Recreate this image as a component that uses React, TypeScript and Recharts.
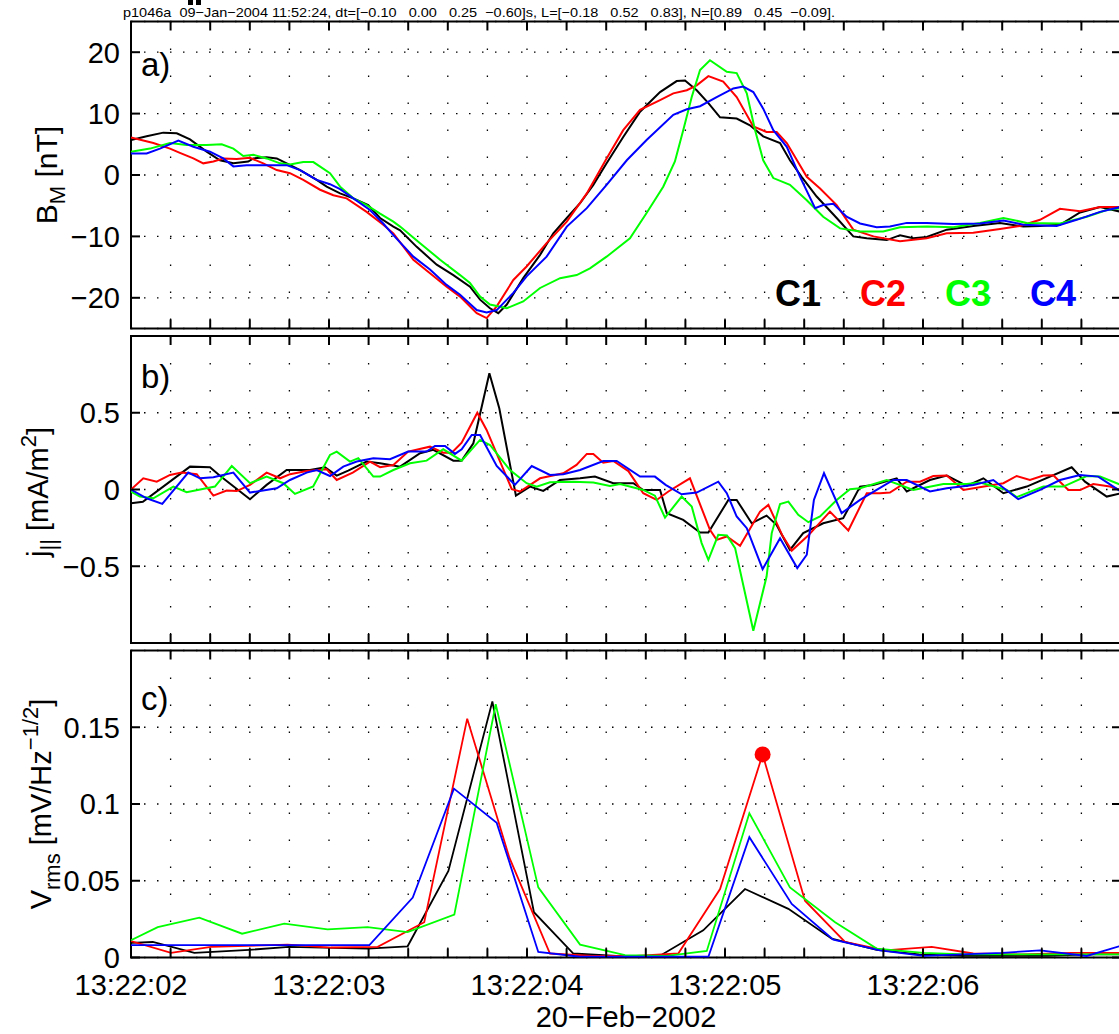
import React from "react";
import {
  LineChart,
  Line,
  XAxis,
  YAxis,
  CartesianGrid,
  ReferenceArea,
  ReferenceDot,
} from "recharts";

type P = [number, number];

// x values are seconds after 13:22:02 (20-Feb-2002)
const timeTicks = [
  0, 0.2, 0.4, 0.6, 0.8, 1, 1.2, 1.4, 1.6, 1.8, 2, 2.2, 2.4, 2.6, 2.8, 3, 3.2,
  3.4, 3.6, 3.8, 4, 4.2, 4.4, 4.6, 4.8, 5,
];
const secondTicks = [0, 1, 2, 3, 4];
const secondLabels = ["13:22:02", "13:22:03", "13:22:04", "13:22:05", "13:22:06"];

// a) B_M [nT]
const bmTicks = [-20, -10, 0, 10, 20];
const bmC1: P[] = [
  [0, 5.7], [0.079, 6.3], [0.163, 6.9], [0.231, 6.8], [0.298, 5.8], [0.382, 3.8],
  [0.449, 2.4], [0.517, 1.9], [0.592, 2.2], [0.618, 2.7], [0.685, 2.9], [0.736, 2.7],
  [0.786, 1.9], [0.854, 0.8], [0.938, -0.8], [0.988, -1.9], [1.056, -3.0], [1.123, -3.8],
  [1.198, -4.9], [1.258, -7.0], [1.325, -8.4], [1.359, -9.0], [1.443, -11.7], [1.544, -14.6],
  [1.628, -16.3], [1.712, -18.2], [1.763, -20.3], [1.813, -21.7], [1.855, -22.5], [1.898, -21.1],
  [1.981, -16.8], [2.066, -13.0], [2.133, -9.5], [2.201, -7.0], [2.268, -4.6], [2.335, -1.6],
  [2.402, 1.9], [2.486, 6.2], [2.571, 10.3], [2.672, 13.5], [2.756, 15.3], [2.798, 15.4],
  [2.857, 13.8], [2.916, 11.7], [2.975, 9.4], [3.059, 9.2], [3.126, 8.1], [3.193, 6.3],
  [3.278, 5.2], [3.328, 2.4], [3.387, -0.3], [3.463, -3.5], [3.564, -7.0], [3.648, -10.0],
  [3.716, -10.3], [3.817, -10.6], [3.884, -9.8], [3.951, -10.3], [4.019, -10.1], [4.12, -8.9],
  [4.254, -8.3], [4.389, -7.8], [4.507, -8.4], [4.591, -8.3], [4.692, -8.1], [4.793, -6.1],
  [4.894, -5.2], [5.0, -6.0],
];
const bmC2: P[] = [
  [0, 6.1], [0.113, 5.2], [0.197, 4.3], [0.247, 3.6], [0.315, 2.7], [0.365, 1.9],
  [0.416, 2.2], [0.466, 2.7], [0.534, 2.6], [0.601, 2.8], [0.668, 1.9], [0.736, 0.8],
  [0.803, 0.3], [0.87, -0.8], [0.955, -2.4], [1.022, -3.3], [1.089, -3.8], [1.19, -6.0],
  [1.274, -8.1], [1.325, -9.5], [1.426, -13.8], [1.51, -16.0], [1.594, -18.2], [1.662, -19.8],
  [1.746, -22.5], [1.796, -23.3], [1.847, -21.4], [1.931, -17.1], [1.998, -14.9], [2.099, -11.1],
  [2.201, -7.6], [2.302, -3.0], [2.402, 2.7], [2.486, 7.3], [2.571, 10.6], [2.672, 12.2],
  [2.739, 13.3], [2.807, 13.8], [2.857, 14.6], [2.916, 16.1], [2.991, 15.2], [3.059, 12.7],
  [3.143, 7.9], [3.21, 7.0], [3.261, 7.0], [3.312, 5.2], [3.413, -0.3], [3.48, -2.2],
  [3.564, -4.9], [3.648, -8.9], [3.749, -10.0], [3.884, -10.8], [4.019, -10.3], [4.12, -9.5],
  [4.254, -9.4], [4.389, -8.8], [4.49, -8.3], [4.591, -7.3], [4.692, -5.5], [4.793, -5.9],
  [4.894, -5.2], [5.0, -5.2],
];
const bmC3: P[] = [
  [0, 3.8], [0.096, 4.3], [0.197, 5.2], [0.281, 4.9], [0.382, 4.9], [0.458, 5.0],
  [0.517, 4.3], [0.567, 3.1], [0.618, 3.3], [0.685, 2.7], [0.753, 1.9], [0.803, 1.7],
  [0.87, 2.1], [0.921, 2.1], [1.005, 0.3], [1.056, -1.9], [1.123, -3.8], [1.19, -4.9],
  [1.258, -6.3], [1.325, -7.6], [1.359, -8.4], [1.46, -11.1], [1.561, -13.8], [1.662, -16.3],
  [1.712, -17.6], [1.763, -19.8], [1.813, -21.1], [1.898, -21.7], [1.981, -20.6], [2.066, -18.4],
  [2.167, -16.8], [2.251, -16.3], [2.318, -15.2], [2.402, -13.3], [2.52, -10.3], [2.604, -6.2],
  [2.688, -1.9], [2.747, 2.2], [2.789, 7.3], [2.832, 12.7], [2.874, 17.1], [2.924, 18.7],
  [3.009, 16.8], [3.059, 16.6], [3.11, 13.3], [3.152, 7.3], [3.193, 2.4], [3.244, -0.5],
  [3.328, -1.6], [3.413, -4.1], [3.496, -6.8], [3.581, -8.7], [3.682, -9.2], [3.799, -9.2],
  [3.884, -8.5], [4.019, -8.4], [4.153, -8.5], [4.288, -7.8], [4.406, -7.0], [4.524, -7.8],
  [4.692, -7.9], [4.827, -6.8], [4.928, -5.7], [5.0, -5.4],
];
const bmC4: P[] = [
  [0, 3.5], [0.079, 3.5], [0.146, 4.3], [0.239, 5.6], [0.315, 4.6], [0.399, 3.8],
  [0.466, 2.7], [0.517, 1.4], [0.584, 1.6], [0.668, 1.6], [0.786, 1.6], [0.854, 0.8],
  [0.938, -0.8], [1.005, -1.5], [1.056, -2.3], [1.123, -3.8], [1.207, -5.7], [1.274, -7.9],
  [1.325, -9.8], [1.426, -13.3], [1.51, -15.4], [1.594, -17.9], [1.662, -19.5], [1.746, -22.0],
  [1.796, -22.4], [1.847, -22.0], [1.931, -19.2], [1.998, -16.5], [2.099, -13.3], [2.201, -8.4],
  [2.302, -5.4], [2.402, -1.6], [2.504, 2.4], [2.604, 5.7], [2.739, 9.8], [2.807, 10.7],
  [2.874, 11.2], [2.958, 12.7], [3.042, 14.1], [3.092, 14.4], [3.143, 13.5], [3.193, 10.8],
  [3.244, 7.3], [3.312, 4.6], [3.379, -0.3], [3.455, -5.4], [3.496, -4.9], [3.547, -4.7],
  [3.614, -6.8], [3.682, -7.9], [3.766, -8.5], [3.833, -8.4], [3.918, -7.8], [4.019, -7.8],
  [4.153, -8.0], [4.288, -7.9], [4.406, -7.4], [4.507, -8.1], [4.675, -8.3], [4.776, -7.3],
  [4.894, -6.0], [5.0, -5.2],
];

// b) j_par [mA/m^2]
const jparTicks = [-0.5, 0, 0.5];
const jparC1: P[] = [
  [0, -0.09], [0.06, -0.08], [0.298, 0.149], [0.399, 0.145], [0.449, 0.09], [0.601, -0.063],
  [0.685, 0.03], [0.786, 0.127], [0.904, 0.127], [0.98, 0.145], [1.039, 0.09], [1.097, 0.123],
  [1.19, 0.182], [1.258, 0.171], [1.359, 0.149], [1.46, 0.236], [1.527, 0.258], [1.628, 0.188],
  [1.67, 0.188], [1.729, 0.301], [1.81, 0.757], [1.86, 0.529], [1.944, -0.04], [2.015, 0.019],
  [2.082, -0.009], [2.167, 0.062], [2.268, 0.073], [2.343, 0.084], [2.436, 0.041], [2.537, 0.041],
  [2.587, -0.003], [2.672, -0.003], [2.706, -0.154], [2.789, -0.198], [2.874, -0.28], [2.916, -0.28],
  [3.017, -0.068], [3.059, -0.068], [3.135, -0.22], [3.21, -0.17], [3.26, -0.23], [3.328, -0.393],
  [3.395, -0.284], [3.496, -0.22], [3.597, -0.187], [3.682, 0.019], [3.749, 0.03], [3.867, 0.073],
  [3.918, -0.013], [4.035, 0.062], [4.12, 0.091], [4.221, 0.023], [4.305, 0.073], [4.406, -0.024],
  [4.524, 0.019], [4.751, 0.145], [4.818, 0.051], [4.928, -0.046], [5.0, -0.024],
];
const jparC2: P[] = [
  [0, 0], [0.062, 0.073], [0.13, 0.051], [0.197, 0.095], [0.256, 0.11], [0.332, 0.1],
  [0.416, -0.04], [0.483, -0.007], [0.534, -0.01], [0.601, 0.03], [0.685, 0.11], [0.753, 0.073],
  [0.803, 0.1], [0.887, 0.121], [0.988, 0.132], [1.039, 0.062], [1.12, 0.11], [1.207, 0.182],
  [1.258, 0.145], [1.325, 0.16], [1.4, 0.247], [1.51, 0.279], [1.577, 0.24], [1.62, 0.24],
  [1.67, 0.305], [1.749, 0.5], [1.796, 0.388], [1.923, 0.002], [1.965, -0.013], [2.066, 0.073],
  [2.183, 0.106], [2.25, 0.16], [2.302, 0.232], [2.335, 0.232], [2.385, 0.175], [2.436, 0.186],
  [2.512, 0.12], [2.587, -0.024], [2.655, -0.068], [2.714, -0.013], [2.823, 0.073], [2.924, -0.263],
  [2.958, -0.328], [3.009, -0.306], [3.076, -0.367], [3.177, -0.144], [3.219, -0.1], [3.29, -0.3],
  [3.337, -0.398], [3.42, -0.3], [3.53, -0.144], [3.623, -0.267], [3.716, -0.024], [3.783, -0.024],
  [3.833, -0.02], [3.918, 0.051], [3.985, 0.051], [4.052, 0.088], [4.12, 0.091], [4.204, -0.003],
  [4.406, 0.041], [4.473, 0.088], [4.54, 0.062], [4.608, 0.091], [4.658, 0.093], [4.734, -0.003],
  [4.793, -0.004], [4.86, 0.036], [4.944, 0.019], [5.0, -0.004],
];
const jparC3: P[] = [
  [0, -0.013], [0.045, -0.046], [0.113, -0.057], [0.214, 0.019], [0.281, -0.018], [0.424, 0.019],
  [0.509, 0.153], [0.601, 0.041], [0.685, 0.084], [0.769, 0.041], [0.828, -0.029], [0.92, 0.02],
  [1.005, 0.225], [1.039, 0.247], [1.106, 0.182], [1.148, 0.204], [1.224, 0.084], [1.258, 0.084],
  [1.325, 0.127], [1.409, 0.171], [1.493, 0.188], [1.577, 0.262], [1.67, 0.188], [1.763, 0.323],
  [1.813, 0.29], [1.914, 0.127], [1.998, 0.041], [2.049, 0.019], [2.116, 0.047], [2.234, 0.051],
  [2.335, 0.045], [2.419, 0.023], [2.47, 0.036], [2.587, -0.003], [2.646, -0.04], [2.697, -0.183],
  [2.781, -0.046], [2.832, -0.111], [2.882, -0.349], [2.916, -0.458], [2.966, -0.295], [3.01, -0.3],
  [3.051, -0.382], [3.143, -0.92], [3.21, -0.567], [3.236, -0.284], [3.278, -0.095], [3.32, -0.079],
  [3.37, -0.165], [3.421, -0.213], [3.48, -0.176], [3.564, -0.068], [3.631, 0.002], [3.682, 0.008],
  [3.817, 0.062], [3.951, -0.003], [4.103, 0.036], [4.221, 0.036], [4.288, 0.045], [4.423, -0.003],
  [4.473, -0.05], [4.608, 0.019], [4.709, 0.019], [4.827, 0.088], [4.894, 0.084], [5.0, 0.03],
];
const jparC4: P[] = [
  [0, 0], [0.079, -0.057], [0.158, -0.094], [0.289, 0.11], [0.348, 0.073], [0.416, 0.08],
  [0.517, 0.11], [0.601, -0.02], [0.736, 0.008], [0.803, 0.062], [0.887, 0.11], [0.938, 0.127],
  [1.005, 0.088], [1.072, 0.149], [1.14, 0.182], [1.224, 0.204], [1.308, 0.197], [1.4, 0.247],
  [1.493, 0.247], [1.535, 0.284], [1.586, 0.284], [1.636, 0.232], [1.67, 0.262], [1.721, 0.355],
  [1.763, 0.355], [1.847, 0.153], [1.939, 0.03], [2.024, 0.153], [2.116, 0.095], [2.183, 0.1],
  [2.268, 0.127], [2.385, 0.186], [2.453, 0.186], [2.571, 0.084], [2.646, 0.084], [2.7, 0.03],
  [2.781, -0.031], [2.857, -0.02], [2.966, 0.051], [3.009, -0.024], [3.059, -0.176], [3.11, -0.252],
  [3.19, -0.519], [3.278, -0.317], [3.365, -0.512], [3.413, -0.425], [3.449, -0.068], [3.5, 0.106],
  [3.589, -0.154], [3.682, -0.068], [3.766, -0.003], [3.85, 0.062], [3.918, 0.062], [4.035, -0.013],
  [4.12, 0.008], [4.254, 0.03], [4.355, 0.062], [4.481, -0.063], [4.591, -0.003], [4.692, 0.062],
  [4.793, 0.095], [4.885, 0.084], [5.0, -0.013],
];

// c) V_rms [mV/Hz^-1/2]
const vrmsTicks = [0, 0.05, 0.1, 0.15];
const vrmsC1: P[] = [
  [0, 0.0095], [0.11, 0.0101], [0.32, 0.003], [0.597, 0.005], [0.798, 0.0069], [1.195, 0.0058],
  [1.397, 0.0073], [1.603, 0.0564], [1.825, 0.1668], [2.035, 0.0295], [2.234, 0.0026], [2.45, 0.001],
  [2.67, 0.001], [2.89, 0.0177], [3.101, 0.0446], [3.32, 0.0317], [3.539, 0.0123], [3.766, 0.005],
  [3.98, 0.002], [4.2, 0.001], [4.41, 0.001], [4.63, 0.001], [4.84, 0.002], [5.0, 0.002],
];
const vrmsC2: P[] = [
  [0, 0.0107], [0.202, 0.003], [0.404, 0.0069], [0.791, 0.0084], [1.01, 0.0065], [1.246, 0.0069],
  [1.481, 0.023], [1.698, 0.1556], [1.911, 0.065], [2.116, 0.0026], [2.33, 0.001], [2.55, 0.001],
  [2.764, 0.0026], [2.975, 0.0446], [3.19, 0.1323], [3.404, 0.037], [3.606, 0.0101], [3.808, 0.0047],
  [4.044, 0.0069], [4.254, 0.0026], [4.5, 0.002], [4.75, 0.003], [5.0, 0.003],
];
const vrmsC3: P[] = [
  [0, 0.0112], [0.135, 0.0198], [0.345, 0.0259], [0.561, 0.0155], [0.774, 0.022], [0.993, 0.0183],
  [1.195, 0.0198], [1.397, 0.0166], [1.633, 0.028], [1.842, 0.165], [2.057, 0.0457], [2.268, 0.0084],
  [2.495, 0.0015], [2.707, 0.001], [2.908, 0.0043], [3.123, 0.094], [3.328, 0.0457], [3.556, 0.023],
  [3.766, 0.0058], [4.002, 0.003], [4.221, 0.002], [4.45, 0.002], [4.7, 0.002], [5.0, 0.002],
];
const vrmsC4: P[] = [
  [0, 0.008], [1.204, 0.008], [1.423, 0.039], [1.631, 0.11], [1.847, 0.0877], [2.057, 0.0036],
  [2.268, 0.0005], [2.5, 0.0005], [2.916, 0.0005], [3.123, 0.0784], [3.337, 0.0349], [3.547, 0.0116],
  [3.783, 0.0047], [4.002, 0.001], [4.2, 0.002], [4.4, 0.003], [4.591, 0.0047], [4.827, 0.001],
  [4.99, 0.0073], [5.0, 0.0076],
];

// the marked C2 maximum of the second burst
const vrmsMarker = vrmsC2
  .filter(([t]) => t > 2.5)
  .reduce((a, b) => (b[1] > a[1] ? b : a));

const FONT = '"Liberation Sans", Arial, Helvetica, sans-serif';
const COLORS = ["#000000", "#ff0000", "#00ff00", "#0000ff"];
const PLOT_L = 131;
const PLOT_W = 990;
const PLOT_H = 307;
const TICK = 9;

const toPts = (a: P[]) => a.map(([t, v]) => ({ t, v }));

const fmtSigned = (v: number) => (v < 0 ? "\u2212" + Math.abs(v) : String(v));

function makeXTick(withLabels: boolean, plotBottom: number) {
  return (props: any) => {
    const { x, payload } = props;
    const idx = secondTicks.indexOf(Math.round(payload.value * 10) / 10);
    const y = plotBottom;
    return (
      <g>
        <line x1={x} x2={x} y1={y} y2={y - TICK} stroke="#000" strokeWidth={2} />
        <line x1={x} x2={x} y1={y - PLOT_H} y2={y - PLOT_H + TICK} stroke="#000" strokeWidth={2} />
        {withLabels && idx >= 0 && (
          <text x={x} y={y + 37.5} textAnchor="middle" fontSize={29} fontFamily={FONT} fill="#000">
            {secondLabels[idx]}
          </text>
        )}
      </g>
    );
  };
}

function makeYTick() {
  return (props: any) => {
    const { y, payload } = props;
    return (
      <g>
        <line x1={PLOT_L} x2={PLOT_L + TICK} y1={y} y2={y} stroke="#000" strokeWidth={2} />
        <line x1={PLOT_L + PLOT_W} x2={PLOT_L + PLOT_W - TICK} y1={y} y2={y} stroke="#000" strokeWidth={2} />
        <text x={PLOT_L - 11} y={y} dy="0.36em" textAnchor="end" fontSize={29} fontFamily={FONT} fill="#000">
          {fmtSigned(payload.value)}
        </text>
      </g>
    );
  };
}

type PanelProps = {
  top: number;
  height: number;
  marginTop: number;
  axisHeight: number;
  yDomain: [number, number];
  yTicks: number[];
  series: P[][];
  lineWidth: number;
  xLabels?: boolean;
  children?: React.ReactNode;
};

function Panel({ top, height, marginTop, axisHeight, yDomain, yTicks, series, lineWidth, xLabels = false, children }: PanelProps) {
  return (
    <div style={{ position: "absolute", left: 0, top }}>
      <LineChart
        width={PLOT_L + PLOT_W + 4}
        height={height}
        margin={{ top: marginTop, right: 4, bottom: height - marginTop - PLOT_H - axisHeight, left: 0 }}
      >
        <CartesianGrid horizontal={false} stroke="#000" strokeWidth={1.3} strokeDasharray="1.5 25.5" />
        <CartesianGrid vertical={false} stroke="#000" strokeWidth={1.3} strokeDasharray="1.5 11.5" />
        <XAxis
          type="number"
          dataKey="t"
          domain={[0, 5]}
          ticks={timeTicks}
          interval={0}
          height={axisHeight}
          axisLine={false}
          tickLine={false}
          tickSize={0}
          tickMargin={0}
          tick={makeXTick(xLabels, marginTop + PLOT_H)}
          allowDataOverflow
        />
        <YAxis
          type="number"
          domain={yDomain}
          ticks={yTicks}
          interval={0}
          width={PLOT_L}
          axisLine={false}
          tickLine={false}
          tickSize={0}
          tickMargin={0}
          tick={makeYTick()}
          allowDataOverflow
        />
        <ReferenceArea x1={0} x2={5} y1={yDomain[0]} y2={yDomain[1]} fill="none" stroke="#000" strokeWidth={2} />
        {series.map((s, i) => (
          <Line
            key={i}
            data={toPts(s)}
            dataKey="v"
            type="linear"
            stroke={COLORS[i]}
            strokeWidth={lineWidth}
            dot={false}
            activeDot={false}
            isAnimationActive={false}
          />
        ))}
        {children}
      </LineChart>
    </div>
  );
}

const header =
  "p1046a  09\u2212Jan\u22122004 11:52:24, dt=[\u22120.10   0.00   0.25  \u22120.60]s, L=[\u22120.18   0.52   0.83], N=[0.89   0.45  \u22120.09].";

export default function App() {
  return (
    <div
      style={{
        position: "absolute",
        left: 0,
        top: 0,
        width: 1119,
        height: 1034,
        overflow: "hidden",
        background: "#fff",
      }}
    >
      <Panel top={0} height={332} marginTop={21.5} axisHeight={2} yDomain={[-25, 25]} yTicks={bmTicks} series={[bmC1, bmC2, bmC3, bmC4]} lineWidth={2} />
      <Panel top={332} height={314} marginTop={4} axisHeight={2} yDomain={[-1, 1]} yTicks={jparTicks} series={[jparC1, jparC2, jparC3, jparC4]} lineWidth={2} />
      <Panel top={646} height={388} marginTop={4.5} axisHeight={50} yDomain={[0, 0.2]} yTicks={vrmsTicks} series={[vrmsC1, vrmsC2, vrmsC3, vrmsC4]} lineWidth={1.8} xLabels>
        <ReferenceDot x={vrmsMarker[0]} y={vrmsMarker[1]} r={8} fill="#ff0000" stroke="none" />
      </Panel>

      <svg
        width={1119}
        height={1034}
        style={{ position: "absolute", left: 0, top: 0, pointerEvents: "none" }}
        fontFamily={FONT}
      >
        <rect x={188} y={0} width={5} height={5} fill="#000" />
        <rect x={196} y={0} width={5} height={5} fill="#000" />
        <text x={123} y={17} fontSize={13} textLength={712} lengthAdjust="spacingAndGlyphs" style={{ whiteSpace: "pre" }}>
          {header}
        </text>

        <text x={141} y={76} fontSize={33}>a)</text>
        <text x={141} y={388} fontSize={33}>b)</text>
        <text x={141} y={710} fontSize={33}>c)</text>

        <g fontSize={36} fontWeight="bold">
          <text x={775} y={306} fill={COLORS[0]}>C1</text>
          <text x={860} y={306} fill={COLORS[1]}>C2</text>
          <text x={945} y={306} fill={COLORS[2]}>C3</text>
          <text x={1030} y={306} fill={COLORS[3]}>C4</text>
        </g>

        <text transform="translate(57,175) rotate(-90)" textAnchor="middle" fontSize={30}>
          <tspan>B</tspan>
          <tspan dy={8} fontSize={22}>M</tspan>
          <tspan dy={-8}> [nT]</tspan>
        </text>
        <text transform="translate(48,492) rotate(-90)" textAnchor="middle" fontSize={29}>
          <tspan>j</tspan>
          <tspan dy={8} fontSize={22}>||</tspan>
          <tspan dy={-8}> [mA/m</tspan>
          <tspan dy={-12} fontSize={22}>2</tspan>
          <tspan dy={12}>]</tspan>
        </text>
        <text transform="translate(51,804) rotate(-90)" textAnchor="middle" fontSize={29}>
          <tspan>V</tspan>
          <tspan dy={9} fontSize={22}>rms</tspan>
          <tspan dy={-9}> [mV/Hz</tspan>
          <tspan dy={-13} fontSize={22}>{"\u22121/2"}</tspan>
          <tspan dy={13}>]</tspan>
        </text>

        <text x={626} y={1027} textAnchor="middle" fontSize={29}>
          {"20\u2212Feb\u22122002"}
        </text>
      </svg>
    </div>
  );
}
